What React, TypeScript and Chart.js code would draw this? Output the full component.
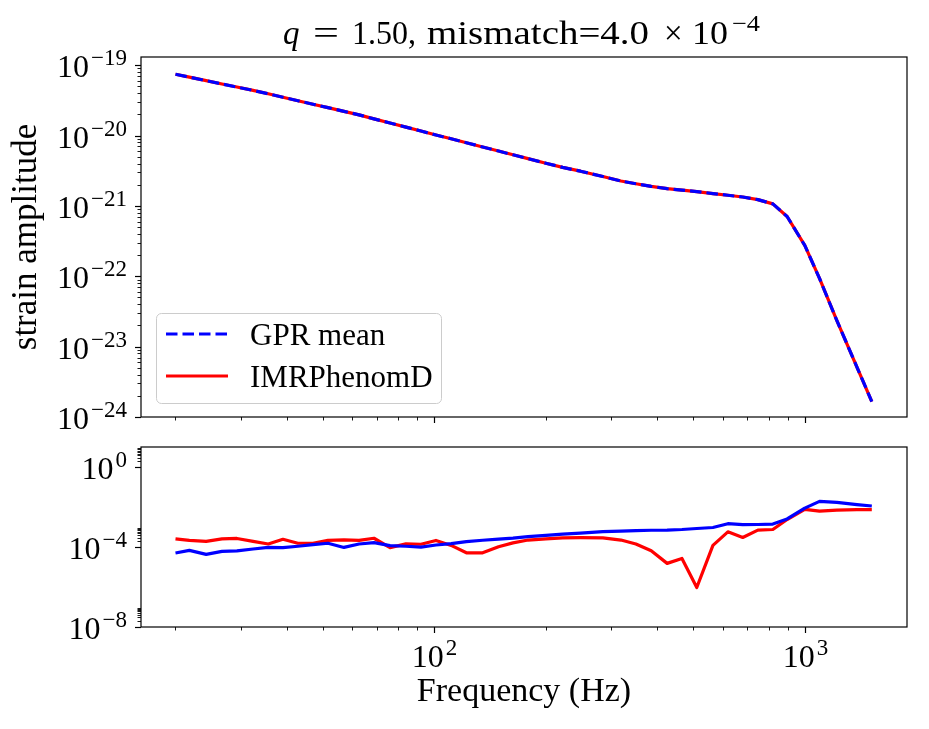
import React, { useEffect, useRef } from 'react';
import { Chart, registerables } from 'chart.js';

Chart.register(...registerables);

// ---------------- data ----------------
const frequencies = [
  20, 21.8, 24.2, 26.7, 29.3, 32.4, 35.6, 39, 42.8, 47,
  51.6, 57, 62.6, 68.7, 75.9, 83.8, 92, 101, 111, 122,
  135, 149, 163, 179, 200, 222, 248, 285, 319, 350,
  385, 425, 466, 511, 565, 620, 680, 747, 820, 896,
  1000, 1096, 1221, 1383, 1517,
];

const gprMean = [
  7.45e-20, 6.78e-20, 6.04e-20, 5.42e-20, 4.90e-20, 4.39e-20, 3.93e-20, 3.51e-20, 3.13e-20, 2.79e-20,
  2.50e-20, 2.21e-20, 1.97e-20, 1.73e-20, 1.51e-20, 1.32e-20, 1.16e-20, 1.02e-20, 9.00e-21, 7.91e-21,
  6.89e-21, 6.03e-21, 5.33e-21, 4.71e-21, 4.05e-21, 3.53e-21, 3.12e-21, 2.62e-21, 2.26e-21, 2.07e-21,
  1.90e-21, 1.76e-21, 1.68e-21, 1.60e-21, 1.50e-21, 1.42e-21, 1.34e-21, 1.23e-21, 1.07e-21, 7.08e-22,
  2.75e-22, 9.33e-23, 2.34e-23, 5.13e-24, 1.66e-24,
];

const imrPhenomD = [
  7.45e-20, 6.78e-20, 6.04e-20, 5.42e-20, 4.90e-20, 4.39e-20, 3.93e-20, 3.51e-20, 3.13e-20, 2.79e-20,
  2.50e-20, 2.21e-20, 1.97e-20, 1.73e-20, 1.51e-20, 1.32e-20, 1.16e-20, 1.02e-20, 9.00e-21, 7.91e-21,
  6.89e-21, 6.03e-21, 5.33e-21, 4.71e-21, 4.05e-21, 3.53e-21, 3.12e-21, 2.62e-21, 2.26e-21, 2.07e-21,
  1.90e-21, 1.76e-21, 1.68e-21, 1.60e-21, 1.50e-21, 1.42e-21, 1.34e-21, 1.23e-21, 1.07e-21, 7.08e-22,
  2.75e-22, 9.33e-23, 2.34e-23, 5.13e-24, 1.66e-24,
];

// lower panel (blue)
const gprError = [
  5.13e-5, 6.92e-5, 4.37e-5, 6.17e-5, 6.61e-5, 8.13e-5, 9.77e-5, 9.55e-5, 1.12e-4, 1.35e-4,
  1.58e-4, 9.77e-5, 1.45e-4, 1.70e-4, 1.20e-4, 1.12e-4, 1.02e-4, 1.29e-4, 1.51e-4, 1.91e-4,
  2.24e-4, 2.57e-4, 2.88e-4, 3.39e-4, 3.89e-4, 4.57e-4, 5.13e-4, 6.03e-4, 6.46e-4, 6.76e-4,
  7.08e-4, 7.24e-4, 7.76e-4, 8.71e-4, 9.77e-4, 1.51e-3, 1.35e-3, 1.38e-3, 1.45e-3, 2.63e-3,
  9.12e-3, 2.00e-2, 1.78e-2, 1.38e-2, 1.17e-2,
];

// lower panel (red)
const imrError = [
  2.63e-4, 2.19e-4, 1.95e-4, 2.63e-4, 2.75e-4, 1.95e-4, 1.45e-4, 2.51e-4, 1.58e-4, 1.58e-4,
  2.19e-4, 2.34e-4, 2.19e-4, 2.82e-4, 9.55e-5, 1.48e-4, 1.41e-4, 2.19e-4, 1.23e-4, 5.25e-5,
  5.25e-5, 1.05e-4, 1.66e-4, 2.29e-4, 2.63e-4, 2.95e-4, 3.02e-4, 2.95e-4, 2.29e-4, 1.45e-4,
  6.61e-5, 1.55e-5, 2.75e-5, 9.55e-7, 1.23e-4, 5.89e-4, 3.09e-4, 7.24e-4, 7.76e-4, 2.45e-3,
  7.94e-3, 6.46e-3, 7.24e-3, 7.76e-3, 7.76e-3,
];

const xMajorTicks = [100, 1000];
const xTickExponents = ['2', '3'];
const topYMajorTicks = [1e-24, 1e-23, 1e-22, 1e-21, 1e-20, 1e-19];
const topYTickExponents = ['\u221224', '\u221223', '\u221222', '\u221221', '\u221220', '\u221219'];
const bottomYMajorTicks = [1e-8, 1e-4, 1];
const bottomYTickExponents = ['\u22128', '\u22124', '0'];

const seriesLabels = ['GPR mean', 'IMRPhenomD'];
const titleVar = 'q';
const titleValue = '1.50,';
const titleMismatch = 'mismatch=4.0';
const titleExp = '\u22124';
const xAxisTitle = 'Frequency (Hz)';
const yAxisTitle = 'strain amplitude';

// ---------------- styling ----------------
const FONT = '"Liberation Serif", "Times New Roman", serif';
const BLUE = '#0000ff';
const RED = '#ff0000';
const LW = 3.2;
const DASH = [11.5, 5];

const X_MIN = 16.14;
const X_MAX = 1888;

function minorTicks(decades: number[], lo: number, hi: number) {
  const out: number[] = [];
  for (const d of decades) {
    for (let m = 2; m <= 9; m++) {
      const v = m * Math.pow(10, d);
      if (v > lo && v < hi) out.push(v);
    }
  }
  return out;
}

function drawPow(ctx: CanvasRenderingContext2D, x: number, baseline: number, exp: string, align: string) {
  const baseFont = `32px ${FONT}`;
  const supFont = `23px ${FONT}`;
  ctx.font = baseFont;
  const w1 = ctx.measureText('10').width;
  ctx.font = supFont;
  const w2 = ctx.measureText(exp).width;
  const total = w1 + 2 + w2;
  const x0 = align === 'right' ? x - total : x - total / 2;
  ctx.textAlign = 'left';
  ctx.textBaseline = 'alphabetic';
  ctx.fillStyle = '#000';
  ctx.font = baseFont;
  ctx.fillText('10', x0, baseline);
  ctx.font = supFont;
  ctx.fillText(exp, x0 + w1 + 2, baseline - 12);
}

// draw text stretched horizontally so it spans `width` px
function fillStretched(ctx: CanvasRenderingContext2D, text: string, x: number, y: number, width: number) {
  const natural = ctx.measureText(text).width;
  const sx = width / natural;
  ctx.save();
  ctx.translate(x, y);
  ctx.scale(sx, 1);
  ctx.fillText(text, 0, 0);
  ctx.restore();
}

type FrameCfg = {
  yMajor: number[];
  yExps: string[];
  yMinor: number[];
  xLabels: boolean;
  title: boolean;
  legend: boolean;
};

function makeFramePlugin(cfg: FrameCfg) {
  return {
    id: 'frame',
    afterDatasetsDraw(chart: any) {
      const { ctx, chartArea: a, scales } = chart;
      const xs = scales.x;
      const ys = scales.y;
      ctx.save();
      ctx.strokeStyle = '#000';
      ctx.lineWidth = 1.2;
      ctx.strokeRect(a.left, a.top, a.right - a.left, a.bottom - a.top);

      const seg = (x1: number, y1: number, x2: number, y2: number, w: number) => {
        ctx.lineWidth = w;
        ctx.beginPath();
        ctx.moveTo(x1, y1);
        ctx.lineTo(x2, y2);
        ctx.stroke();
      };
      // x ticks
      const xMinor = minorTicks([1, 2, 3], X_MIN, X_MAX);
      for (const v of xMinor) {
        const px = Math.round(xs.getPixelForValue(v)) + 0.5;
        seg(px, a.bottom, px, a.bottom + 3.5, 0.9);
      }
      xMajorTicks.forEach((v, i) => {
        const px = Math.round(xs.getPixelForValue(v)) + 0.5;
        seg(px, a.bottom, px, a.bottom + 6, 1.2);
        if (cfg.xLabels) drawPow(ctx, px, a.bottom + 40, xTickExponents[i], 'center');
      });
      // y ticks
      for (const v of cfg.yMinor) {
        const py = Math.round(ys.getPixelForValue(v)) + 0.5;
        seg(a.left, py, a.left - 3.5, py, 0.9);
      }
      cfg.yMajor.forEach((v, i) => {
        const py = Math.round(ys.getPixelForValue(v)) + 0.5;
        seg(a.left, py, a.left - 6, py, 1.2);
        drawPow(ctx, a.left - 14, py + 11.5, cfg.yExps[i], 'right');
      });

      if (cfg.title) {
        // pieces laid out like the LaTeX title, offsets relative to the axes centre
        const cx = (a.left + a.right) / 2;
        const by = 44;
        const up = `33px ${FONT}`;
        const it = `italic 33px ${FONT}`;
        const sup = `23px ${FONT}`;
        ctx.fillStyle = '#000';
        ctx.textAlign = 'left';
        ctx.textBaseline = 'alphabetic';
        ctx.font = it;
        ctx.fillText(titleVar, cx - 241, by);
        ctx.font = up;
        fillStretched(ctx, '=', cx - 211, by, 26);
        fillStretched(ctx, titleValue, cx - 172, by, 64);
        fillStretched(ctx, titleMismatch, cx - 97, by, 222);
        ctx.fillText('\u00d7', cx + 140, by);
        fillStretched(ctx, '10', cx + 168, by, 36);
        ctx.font = sup;
        fillStretched(ctx, titleExp, cx + 208, by - 13, 28);
      }

      if (cfg.legend) {
        const lx = a.left + 15;
        const lw = 285;
        const lh = 90;
        const ly = a.bottom - 14 - lh;
        ctx.beginPath();
        (ctx as any).roundRect(lx + 0.5, ly + 0.5, lw, lh, 5);
        ctx.fillStyle = 'rgba(255,255,255,0.8)';
        ctx.fill();
        ctx.strokeStyle = '#cccccc';
        ctx.lineWidth = 1;
        ctx.stroke();
        chart.data.datasets.forEach((ds: any, i: number) => {
          const ry = ly + 21 + i * 42;
          ctx.strokeStyle = ds.borderColor;
          ctx.lineWidth = LW;
          ctx.setLineDash(ds.borderDash || []);
          ctx.beginPath();
          ctx.moveTo(lx + 10, ry);
          ctx.lineTo(lx + 72, ry);
          ctx.stroke();
          ctx.setLineDash([]);
          ctx.fillStyle = '#000';
          ctx.font = `31px ${FONT}`;
          ctx.textAlign = 'left';
          ctx.textBaseline = 'alphabetic';
          ctx.fillText(ds.label, lx + 94, ry + 10.5);
        });
      }
      ctx.restore();
    },
  };
}

function pts(ys: number[]) {
  return frequencies.map((f, i) => ({ x: f, y: ys[i] }));
}

function baseOptions(opts: {
  padTop: number;
  xHeight: number;
  yMin: number;
  yMax: number;
  xTitle: boolean;
  yTitle: boolean;
}) {
  return {
    responsive: false,
    animation: false as const,
    devicePixelRatio: 1,
    events: [] as any[],
    layout: { padding: { left: 0, right: 22, top: opts.padTop, bottom: 0 }, autoPadding: false },
    plugins: {
      legend: { display: false },
      title: { display: false },
      tooltip: { enabled: false },
    },
    elements: { point: { radius: 0 }, line: { tension: 0 } },
    scales: {
      x: {
        type: 'logarithmic' as const,
        min: X_MIN,
        max: X_MAX,
        grid: { display: false },
        border: { display: false },
        ticks: { display: false },
        title: {
          display: opts.xTitle,
          text: xAxisTitle,
          color: '#000',
          font: { family: FONT, size: 34 },
          padding: { top: 0, bottom: 17 },
        },
        afterFit: (s: any) => {
          s.height = opts.xHeight;
        },
      },
      y: {
        type: 'logarithmic' as const,
        min: opts.yMin,
        max: opts.yMax,
        grid: { display: false },
        border: { display: false },
        ticks: { display: false },
        title: {
          display: opts.yTitle,
          text: yAxisTitle,
          color: '#000',
          font: { family: FONT, size: 35 },
          padding: { top: 6, bottom: 0 },
        },
        afterFit: (s: any) => {
          s.width = 141;
        },
      },
    },
  };
}

function TopPanel() {
  const ref = useRef<HTMLCanvasElement>(null);
  useEffect(() => {
    if (!ref.current) return;
    const chart = new Chart(ref.current, {
      type: 'line',
      data: {
        datasets: [
          {
            label: seriesLabels[0],
            data: pts(gprMean),
            borderColor: BLUE,
            borderWidth: LW,
            borderDash: DASH,
            borderJoinStyle: 'round',
            fill: false,
          },
          {
            label: seriesLabels[1],
            data: pts(imrPhenomD),
            borderColor: RED,
            borderWidth: LW,
            borderJoinStyle: 'round',
            fill: false,
          },
        ],
      },
      options: baseOptions({ padTop: 57, xHeight: 23, yMin: 1e-24, yMax: 1.31e-19, xTitle: false, yTitle: true }) as any,
      plugins: [
        makeFramePlugin({
          yMajor: topYMajorTicks,
          yExps: topYTickExponents,
          yMinor: minorTicks([-24, -23, -22, -21, -20, -19], 1e-24, 1.31e-19),
          xLabels: false,
          title: true,
          legend: true,
        }),
      ],
    });
    return () => chart.destroy();
  }, []);
  return (
    <canvas
      ref={ref}
      width={929}
      height={440}
      style={{ position: 'absolute', left: 0, top: 0, width: 929, height: 440 }}
    />
  );
}

function BottomPanel() {
  const ref = useRef<HTMLCanvasElement>(null);
  useEffect(() => {
    if (!ref.current) return;
    const chart = new Chart(ref.current, {
      type: 'line',
      data: {
        datasets: [
          {
            label: 'GPR',
            data: pts(gprError),
            borderColor: BLUE,
            borderWidth: LW,
            borderJoinStyle: 'round',
            fill: false,
          },
          {
            label: 'IMRPhenomD',
            data: pts(imrError),
            borderColor: RED,
            borderWidth: LW,
            borderJoinStyle: 'round',
            fill: false,
          },
        ],
      },
      options: baseOptions({ padTop: 7, xHeight: 102, yMin: 1e-8, yMax: 10.6, xTitle: true, yTitle: false }) as any,
      plugins: [
        makeFramePlugin({
          yMajor: bottomYMajorTicks,
          yExps: bottomYTickExponents,
          yMinor: minorTicks([-8, -4, 0], 1e-8, 10.6),
          xLabels: true,
          title: false,
          legend: false,
        }),
      ],
    });
    return () => chart.destroy();
  }, []);
  return (
    <canvas
      ref={ref}
      width={929}
      height={289}
      style={{ position: 'absolute', left: 0, top: 440, width: 929, height: 289 }}
    />
  );
}

export default function App() {
  return (
    <div style={{ position: 'absolute', left: 0, top: 0, width: 929, height: 729, background: '#fff' }}>
      <TopPanel />
      <BottomPanel />
    </div>
  );
}
